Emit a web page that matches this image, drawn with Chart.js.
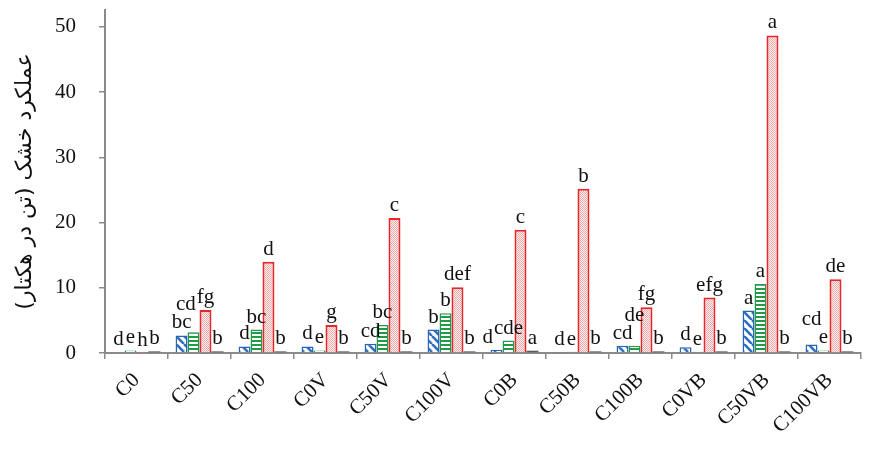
<!DOCTYPE html>
<html>
<head>
<meta charset="utf-8">
<script src="https://cdn.jsdelivr.net/npm/chart.js@4.4.1/dist/chart.umd.min.js"></script>
<style>
  html, body { margin: 0; padding: 0; background: #ffffff; }
  #wrap { width: 877px; height: 451px; position: relative; }
</style>
</head>
<body>
<div id="wrap"><canvas id="chart" width="877" height="451"></canvas></div>
<script>
// Treatments on the x axis
const categories = ['C0', 'C50', 'C100', 'C0V', 'C50V', 'C100V', 'C0B', 'C50B', 'C100B', 'C0VB', 'C50VB', 'C100VB'];

// Dry yield (t/ha) for the four series
const seriesBlue  = [0.1, 2.7, 1.0, 1.0, 1.4, 3.6, 0.5, 0.15, 1.1, 0.9, 6.5, 1.3];
const seriesGreen = [0.4, 3.2, 3.6, 0.4, 4.3, 6.1, 1.9, 0.2, 1.1, 0.2, 10.6, 0.4];
const seriesRed   = [0.05, 6.6, 14.0, 4.3, 20.7, 10.1, 18.9, 25.2, 7.0, 8.5, 48.7, 11.3];
const seriesGray  = [0.25, 0.25, 0.25, 0.25, 0.25, 0.25, 0.35, 0.25, 0.25, 0.25, 0.25, 0.25];

// Mean-comparison letters printed above each bar
const lettersBlue  = ['d', 'bc', 'd', 'd', 'cd', 'b', 'd', 'd', 'cd', 'd', 'a', 'cd'];
const lettersGreen = ['e', 'cd', 'bc', 'e', 'bc', 'b', 'cde', 'e', 'de', 'e', 'a', 'e'];
const lettersRed   = ['h', 'fg', 'd', 'g', 'c', 'def', 'c', 'b', 'fg', 'efg', 'a', 'de'];
const lettersGray  = ['b', 'b', 'b', 'b', 'b', 'b', 'a', 'b', 'b', 'b', 'b', 'b'];

// Y axis ticks
const yTicks = [0, 10, 20, 30, 40, 50];
const yTitle = 'عملکرد خشک (تن در هکتار)';

// ---- fill patterns ----
function makeTile(w, h, draw) {
  const c = document.createElement('canvas');
  c.width = w; c.height = h;
  const g = c.getContext('2d');
  draw(g, w, h);
  return g.createPattern(c, 'repeat');
}

const diagBlue = makeTile(8, 8, (g, w, h) => {
  g.fillStyle = '#ffffff';
  g.fillRect(0, 0, w, h);
  g.strokeStyle = '#2f6fc0';
  g.lineWidth = 2.6;
  for (const k of [-8, 0, 8]) {
    g.beginPath();
    g.moveTo(k, 0);
    g.lineTo(k + 8, 8);
    g.stroke();
  }
});

const stripeGreen = makeTile(4, 4, (g, w, h) => {
  g.fillStyle = '#ffffff';
  g.fillRect(0, 0, w, h);
  g.fillStyle = '#1f9a46';
  g.fillRect(0, 0, w, 2);
});

const dotsRed = makeTile(2, 2, (g, w, h) => {
  g.fillStyle = '#fff2f2';
  g.fillRect(0, 0, w, h);
  g.fillStyle = '#efa7a7';
  g.fillRect(0, 0, 1, 1);
  g.fillRect(1, 1, 1, 1);
});

// ---- letter labels drawn above the bars ----
// Neighbouring labels in a group that would collide are stacked
// (the taller bar's label goes on top); labels that still touch
// are nudged sideways.
const LABEL_GAP = 7;
const LABEL_STACK = 18;
function overlapX(a, b) {
  return Math.min(a.x + a.w / 2, b.x + b.w / 2) - Math.max(a.x - a.w / 2, b.x - b.w / 2);
}
const letterLabels = {
  id: 'letterLabels',
  afterDatasetsDraw(chart) {
    const ctx = chart.ctx;
    ctx.save();
    ctx.font = '21px "Liberation Serif", "Times New Roman", serif';
    ctx.fillStyle = '#111111';
    ctx.textAlign = 'center';
    ctx.textBaseline = 'alphabetic';
    const dsList = chart.data.datasets;
    const nGroups = chart.data.labels.length;
    for (let j = 0; j < nGroups; j++) {
      const items = dsList.map((ds, i) => {
        const bar = chart.getDatasetMeta(i).data[j];
        const txt = ds.letters[j];
        const w = ctx.measureText(txt).width;
        return { txt, x: bar.x, w, base: bar.y - LABEL_GAP, value: ds.data[j] };
      });
      for (let k = 1; k < items.length; k++) {
        const p = items[k - 1], c = items[k];
        if (overlapX(p, c) > 1 && Math.abs(c.base - p.base) < 7) {
          if (c.value >= p.value) c.base = p.base - LABEL_STACK;
          else p.base = c.base - LABEL_STACK;
        }
      }
      for (let k = 1; k < items.length; k++) {
        const p = items[k - 1], c = items[k];
        const ov = overlapX(p, c);
        if (ov > 0 && Math.abs(c.base - p.base) < 14) p.x -= ov + 1;
      }
      items.forEach(it => ctx.fillText(it.txt, it.x, it.base));
    }
    ctx.restore();
  }
};

const axisColor = '#8a8a8a';
const tickFont = { family: '"Liberation Serif", "Times New Roman", serif', size: 21 };

new Chart(document.getElementById('chart'), {
  type: 'bar',
  data: {
    labels: categories,
    datasets: [
      { label: 'A', data: seriesBlue, letters: lettersBlue, backgroundColor: diagBlue,
        borderColor: '#2a64b4', borderWidth: 1.5 },
      { label: 'B', data: seriesGreen, letters: lettersGreen, backgroundColor: stripeGreen,
        borderColor: '#1f9a46', borderWidth: 1.5 },
      { label: 'C', data: seriesRed, letters: lettersRed, backgroundColor: dotsRed,
        borderColor: '#e8262a', borderWidth: 2 },
      { label: 'D', data: seriesGray, letters: lettersGray, backgroundColor: '#5a5a5a',
        borderWidth: 0 }
    ]
  },
  options: {
    responsive: false,
    animation: false,
    datasets: { bar: { categoryPercentage: 0.76, barPercentage: 1.0 } },
    layout: { padding: { left: 0, right: 16, top: 10, bottom: 0 } },
    plugins: {
      legend: { display: false },
      tooltip: { enabled: false }
    },
    scales: {
      x: {
        grid: { display: true, drawOnChartArea: false, drawTicks: true, tickLength: 6,
                color: axisColor, lineWidth: 1.5, offset: true },
        border: { color: axisColor, width: 2 },
        ticks: { minRotation: 45, maxRotation: 45, font: tickFont, color: '#111111', padding: 9,
                 autoSkip: false },
        afterFit(scale) {
          scale.height = 98;
          scale.paddingLeft = 0;
          scale.paddingRight = 0;
        }
      },
      y: {
        min: 0,
        max: 52.6,
        afterBuildTicks(scale) { scale.ticks = yTicks.map(v => ({ value: v })); },
        grid: { display: true, drawOnChartArea: false, drawTicks: true, tickLength: 6,
                color: axisColor, lineWidth: 1.5 },
        border: { color: axisColor, width: 2 },
        ticks: { font: tickFont, color: '#111111', padding: 23 },
        title: {
          display: true,
          text: yTitle,
          font: { family: '"DejaVu Sans", sans-serif', size: 22 },
          color: '#111111',
          padding: { top: 12, bottom: 0 }
        },
        afterFit(scale) {
          scale.width = 105;
          scale.paddingTop = 0;
          scale.paddingBottom = 0;
        }
      }
    }
  },
  plugins: [letterLabels]
});
</script>
</body>
</html>
